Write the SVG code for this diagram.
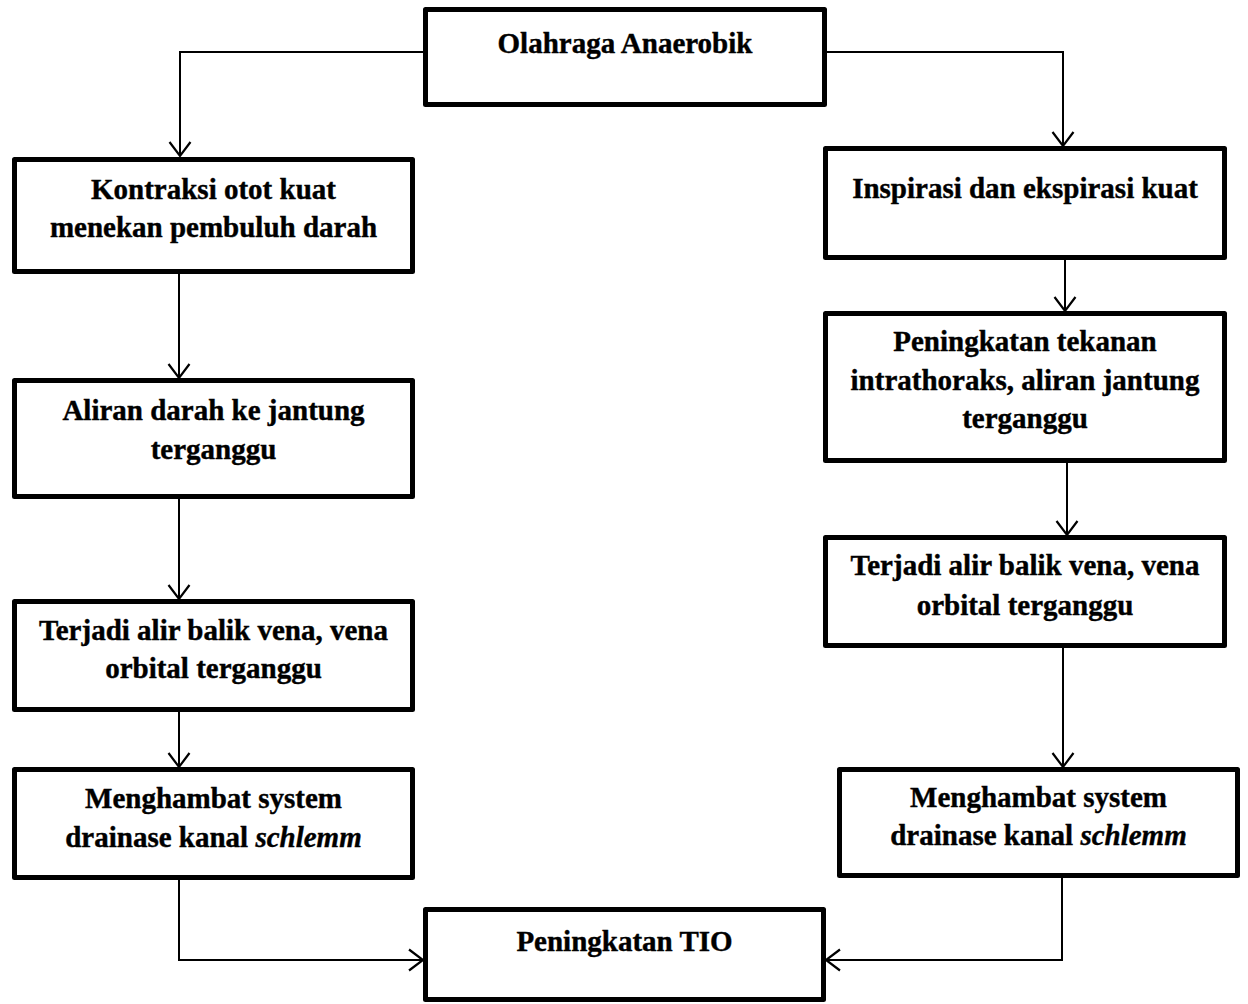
<svg xmlns="http://www.w3.org/2000/svg" width="1248" height="1004" viewBox="0 0 1248 1004">
<style>
.box{fill:#fff;stroke:#000;stroke-width:5;stroke-linejoin:round}
.t{font-family:"Liberation Serif","Times New Roman",serif;font-weight:bold;font-size:29px;fill:#000;stroke:#000;stroke-width:0.4;text-anchor:middle}
.c{fill:none;stroke:#000;stroke-width:2}
</style>
<defs>
<marker id="ah" viewBox="-15 -12 17 24" refX="0" refY="0" markerWidth="17" markerHeight="24" markerUnits="userSpaceOnUse" orient="auto">
<path d="M-14,-10.5 L0,0 L-14,10.5" fill="none" stroke="#000" stroke-width="2.2"/>
</marker>
</defs>
<rect width="1248" height="1004" fill="#fff"/>
<g id="connectors">
<path class="c" d="M423,52 H180 V156" marker-end="url(#ah)"/>
<path class="c" d="M827,52 H1063 V146" marker-end="url(#ah)"/>
<path class="c" d="M179,274 V378" marker-end="url(#ah)"/>
<path class="c" d="M179,499 V599" marker-end="url(#ah)"/>
<path class="c" d="M179,712 V767" marker-end="url(#ah)"/>
<path class="c" d="M179,880 V960 H423" marker-end="url(#ah)"/>
<path class="c" d="M1065,260 V311" marker-end="url(#ah)"/>
<path class="c" d="M1067,463 V535" marker-end="url(#ah)"/>
<path class="c" d="M1063,648 V767" marker-end="url(#ah)"/>
<path class="c" d="M1062,878 V960 H826" marker-end="url(#ah)"/>
</g>
<g id="n-top">
<rect class="box" x="425.5" y="9.5" width="399" height="95"/>
<text class="t" x="625" y="53">Olahraga Anaerobik</text>
</g>
<g id="n-l1">
<rect class="box" x="14.5" y="159.5" width="398" height="112"/>
<text class="t" x="213.5" y="199">Kontraksi otot kuat</text>
<text class="t" x="213.5" y="237">menekan pembuluh darah</text>
</g>
<g id="n-l2">
<rect class="box" x="14.5" y="380.5" width="398" height="116"/>
<text class="t" x="213.5" y="420">Aliran darah ke jantung</text>
<text class="t" x="213.5" y="459">terganggu</text>
</g>
<g id="n-l3">
<rect class="box" x="14.5" y="601.5" width="398" height="108"/>
<text class="t" x="213.5" y="640">Terjadi alir balik vena, vena</text>
<text class="t" x="213.5" y="678">orbital terganggu</text>
</g>
<g id="n-l4">
<rect class="box" x="14.5" y="769.5" width="398" height="108"/>
<text class="t" x="213.5" y="808">Menghambat system</text>
<text class="t" x="213.5" y="847">drainase kanal <tspan font-style="italic">schlemm</tspan></text>
</g>
<g id="n-r1">
<rect class="box" x="825.5" y="148.5" width="399" height="109"/>
<text class="t" x="1025" y="198">Inspirasi dan ekspirasi kuat</text>
</g>
<g id="n-r2">
<rect class="box" x="825.5" y="313.5" width="399" height="147"/>
<text class="t" x="1025" y="351">Peningkatan tekanan</text>
<text class="t" x="1025" y="390">intrathoraks, aliran jantung</text>
<text class="t" x="1025" y="428">terganggu</text>
</g>
<g id="n-r3">
<rect class="box" x="825.5" y="537.5" width="399" height="108"/>
<text class="t" x="1025" y="575">Terjadi alir balik vena, vena</text>
<text class="t" x="1025" y="615">orbital terganggu</text>
</g>
<g id="n-r4">
<rect class="box" x="839.5" y="769.5" width="398" height="106"/>
<text class="t" x="1038.5" y="807">Menghambat system</text>
<text class="t" x="1038.5" y="845">drainase kanal <tspan font-style="italic">schlemm</tspan></text>
</g>
<g id="n-bottom">
<rect class="box" x="425.5" y="909.5" width="398" height="90"/>
<text class="t" x="624.5" y="951">Peningkatan TIO</text>
</g>
</svg>
